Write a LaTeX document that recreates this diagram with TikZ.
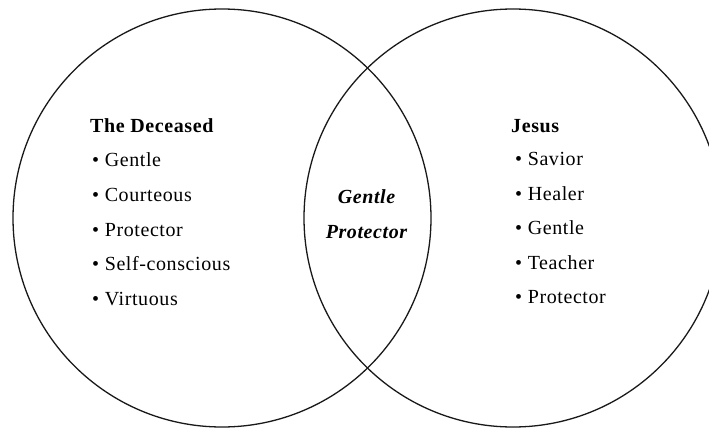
\documentclass[tikz,border=0pt]{standalone}
\usepackage{fontspec}
\setmainfont{Liberation Serif}[LetterSpace=3]
\usetikzlibrary{positioning}

\begin{document}
\begin{tikzpicture}[
    x=1pt, y=-1pt,
    % Estilo para los dos conjuntos (círculos)
    Conjunto/.style={
        draw=black!90,
        line width=1.3pt
    },
    % Estilo para los títulos de cada conjunto
    Titulo/.style={
        anchor=base west, inner sep=0pt,
        font=\fontsize{20}{24}\selectfont\bfseries
    },
    % Estilo para los rasgos con viñeta
    Rasgo/.style={
        anchor=base west, inner sep=0pt,
        font=\fontsize{20}{24}\selectfont
    },
    % Estilo para la intersección
    Comun/.style={
        anchor=base, inner sep=0pt,
        font=\fontsize{20}{24}\selectfont\bfseries\itshape
    }
]
    \useasboundingbox (0,0) rectangle (709,428);

    % --- 1. LOS CONJUNTOS ---
    \coordinate (CIzq) at (222,218);
    \coordinate (CDer) at (513,218);
    \draw[Conjunto] (CIzq) circle [radius=209pt];
    \draw[Conjunto] (CDer) circle [radius=209pt];

    % --- 2. EL DIFUNTO (izquierda) ---
    \node[Titulo] (difunto) at (90,132) {The Deceased};
    \foreach \rasgo [count=\i] in {Gentle, Courteous, Protector, Self-conscious, Virtuous} {
        \node[Rasgo] (dif\i) at (92, {132+34.7*\i}) {\textbullet\ \rasgo};
    }

    % --- 3. JESÚS (derecha) ---
    \node[Titulo] (jesus) at (511,132) {Jesus};
    \foreach \rasgo [count=\i] in {Savior, Healer, Gentle, Teacher, Protector} {
        \node[Rasgo] (jes\i) at (515, {131.5+34.4*\i}) {\textbullet\ \rasgo};
    }

    % --- 4. LA INTERSECCIÓN ---
    \node[Comun] (comun1) at (366.5,203) {Gentle};
    \node[Comun] (comun2) at (366.5,238) {Protector};

\end{tikzpicture}
\end{document}
